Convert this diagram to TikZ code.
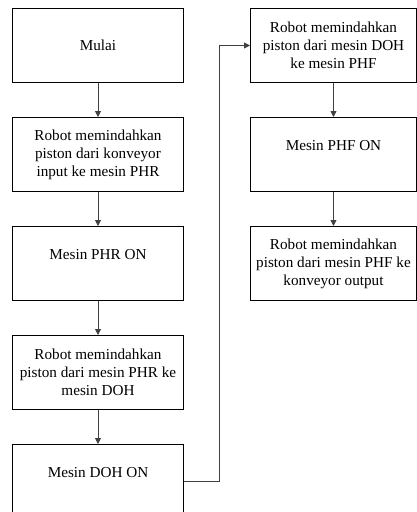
\documentclass[tikz,border=0pt]{standalone}
\usepackage{fontspec}
\setmainfont{Liberation Serif}
\usepackage{xcolor}
\usepackage{tikz}
\usetikzlibrary{arrows.meta, shapes, positioning}

\begin{document}
\begin{tikzpicture}[
  font=\fontsize{11.4}{13.5}\selectfont,
  node distance=25.5pt,
  stepnode/.style={
    draw,
    rectangle,
    line width=0.75pt,
    align=center,
    minimum width=128.25pt,
    minimum height=55.5pt
  },
  rightnode/.style={stepnode, minimum width=124.5pt},
  arrow/.style={-{Triangle[length=4.5pt, width=4.5pt]}, line width=0.6pt, draw=black!75}
]
\useasboundingbox (0,0) rectangle (312.75pt,-384pt);

% Kolom kiri
\node[stepnode, anchor=north west] (start) at (9pt,-6pt) {Mulai};
\node[stepnode, below=of start] (phrin) {Robot memindahkan\\
piston dari konveyor\\ input ke mesin PHR};
\node[stepnode, below=of phrin] (phron) {Mesin PHR ON\\ \mbox{}};
\node[stepnode, below=of phron] (phrdoh) {Robot memindahkan\\
piston dari mesin PHR ke\\ mesin DOH};
\node[stepnode, below=of phrdoh] (dohon) {Mesin DOH ON\\ \mbox{}};

% Kolom kanan
\node[rightnode, anchor=north west] (dohphf) at (187.5pt,-6pt) {Robot memindahkan\\
piston dari mesin DOH\\ ke mesin PHF};
\node[rightnode, below=of dohphf] (phfon) {Mesin PHF ON\\ \mbox{}};
\node[rightnode, below=of phfon] (phfout) {Robot memindahkan\\
piston dari mesin PHF ke\\ konveyor output};

% Panah
\draw[arrow] (start) -- (phrin);
\draw[arrow] (phrin) -- (phron);
\draw[arrow] (phron) -- (phrdoh);
\draw[arrow] (phrdoh) -- (dohon);
\draw[arrow] (dohon.east) -- ++(26.25pt,0) |- (dohphf.west);
\draw[arrow] (dohphf) -- (phfon);
\draw[arrow] (phfon) -- (phfout);

\end{tikzpicture}
\end{document}
